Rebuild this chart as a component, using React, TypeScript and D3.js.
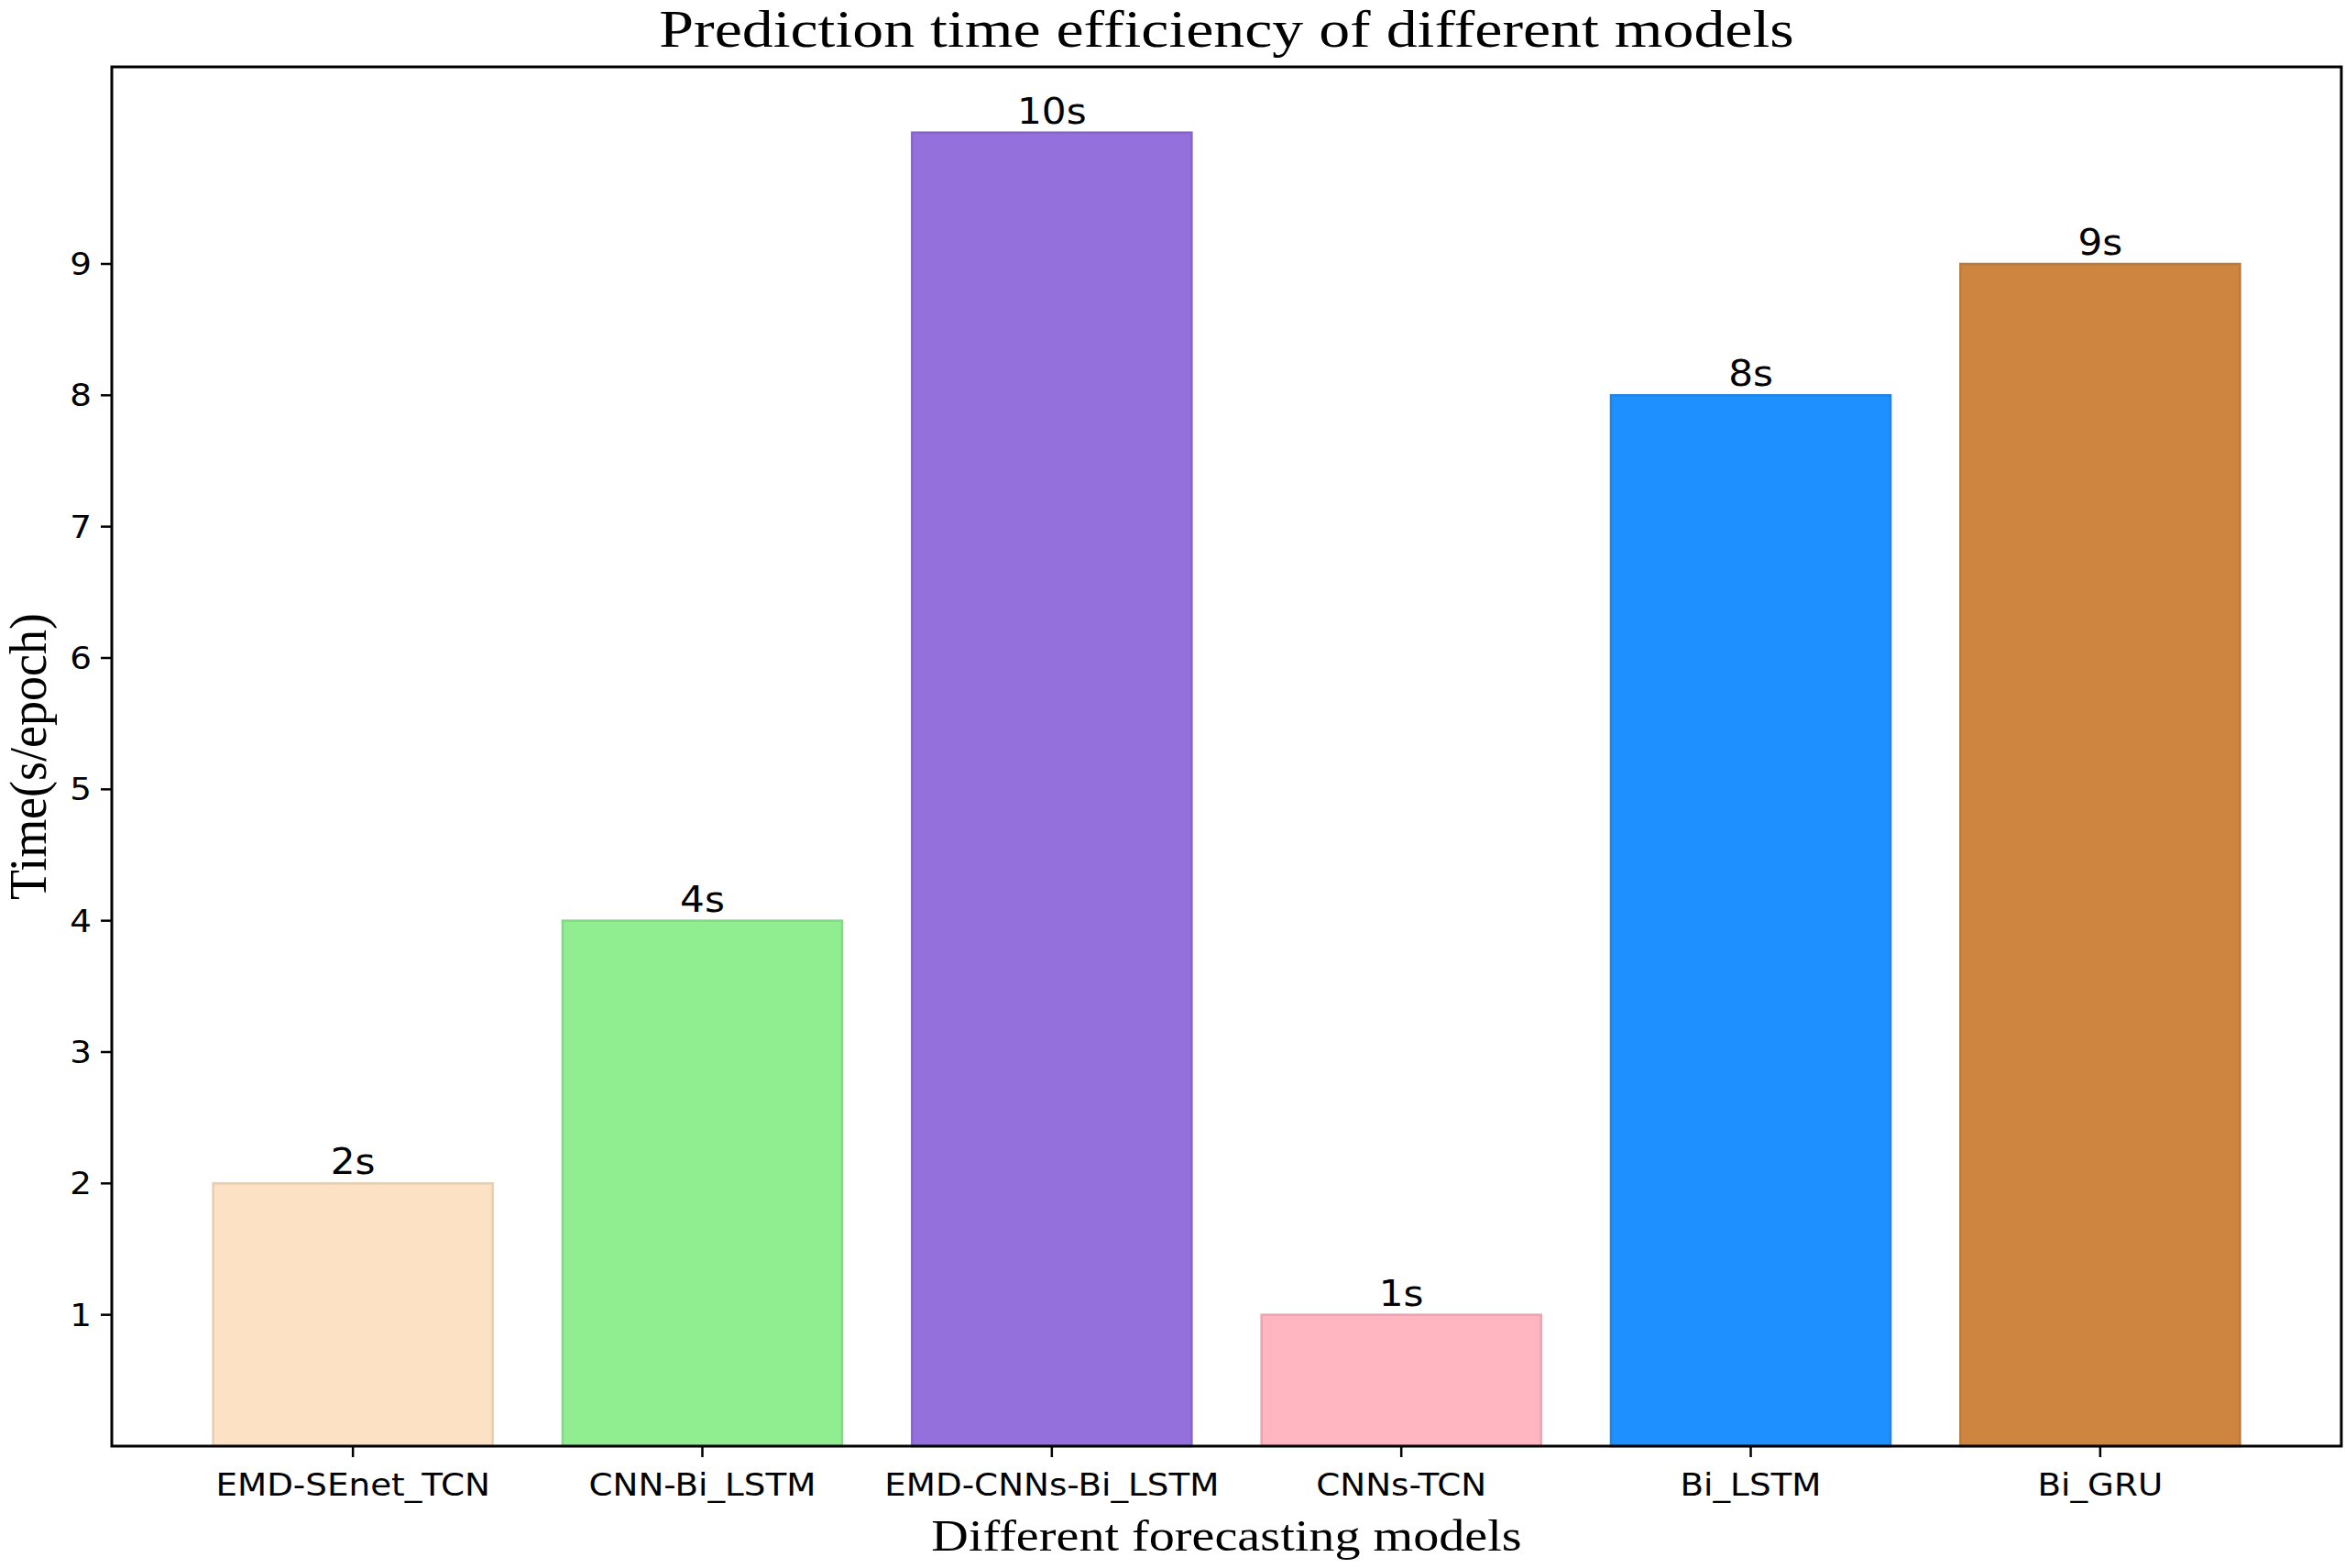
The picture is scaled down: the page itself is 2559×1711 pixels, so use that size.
import React from 'react';
import * as d3 from 'd3';

const models = ['EMD-SEnet_TCN', 'CNN-Bi_LSTM', 'EMD-CNNs-Bi_LSTM', 'CNNs-TCN', 'Bi_LSTM', 'Bi_GRU'];
const times = [2, 4, 10, 1, 8, 9];
const barColors = ['#fde1c4', '#90ee90', '#9370db', '#ffb6c1', '#1e90ff', '#cd853f'];
const yTicks = [1, 2, 3, 4, 5, 6, 7, 8, 9];

const title = 'Prediction time efficiency of different models';
const xTitle = 'Different forecasting models';
const yTitle = 'Time(s/epoch)';

const App = () => {
  const width = 2559;
  const height = 1711;
  const margin = { top: 73, right: 4, bottom: 133, left: 122 };
  const innerW = width - margin.left - margin.right;
  const innerH = height - margin.top - margin.bottom;

  // matplotlib-like limits: bars of width 0.8, 5% margins
  const barW = 0.8;
  const n = models.length;
  const pad = (n - 1 + barW) * 0.05;
  const x = d3.scaleLinear().domain([-barW / 2 - pad, n - 1 + barW / 2 + pad]).range([0, innerW]);
  const yMax = d3.max(times)! * 1.05;
  const y = d3.scaleLinear().domain([0, yMax]).range([innerH, 0]);

  const sans = 'DejaVu Sans, sans-serif';
  const serif = 'Liberation Serif, Times New Roman, serif';
  const sx = 1.13;

  return (
    <svg width={width} height={height} style={{ position: 'absolute', left: 0, top: 0, background: '#fff' }}>
      <rect width={width} height={height} fill="#fff" />
      <text
        transform={`translate(${margin.left + innerW / 2},51) scale(1.19,1)`}
        textAnchor="middle"
        fontFamily={serif}
        fontSize={57}
        fill="#000"
      >
        {title}
      </text>
      <g transform={`translate(${margin.left},${margin.top})`}>
        {/* bars */}
        {times.map((v, i) => (
          <rect
            key={models[i]}
            x={x(i - barW / 2)}
            y={y(v)}
            width={x(i + barW / 2) - x(i - barW / 2)}
            height={innerH - y(v)}
            fill={barColors[i]}
            stroke={d3.color(barColors[i])!.darker(0.25).formatHex()}
            strokeWidth={2.5}
          />
        ))}
        {/* value labels */}
        {times.map((v, i) => (
          <text
            key={'v' + i}
            transform={`translate(${x(i)},${y(v) - 10}) scale(1.08,1)`}
            textAnchor="middle"
            fontFamily={sans}
            fontSize={39}
            fill="#000"
          >
            {`${v}s`}
          </text>
        ))}
        {/* y ticks */}
        {yTicks.map((t) => (
          <g key={'y' + t} transform={`translate(0,${y(t)})`}>
            <line x1={-12} x2={0} stroke="#000" strokeWidth={2.5} />
            <text
              transform={`translate(-22,0) scale(${sx},1)`}
              textAnchor="end"
              dy="0.36em"
              fontFamily={sans}
              fontSize={33}
              fill="#000"
            >
              {t}
            </text>
          </g>
        ))}
        {/* x ticks */}
        {models.map((m, i) => (
          <g key={'x' + m} transform={`translate(${x(i)},${innerH})`}>
            <line y1={0} y2={12} stroke="#000" strokeWidth={2.5} />
            <text
              transform={`translate(0,54) scale(${sx},1)`}
              textAnchor="middle"
              fontFamily={sans}
              fontSize={33}
              fill="#000"
            >
              {m}
            </text>
          </g>
        ))}
        {/* frame */}
        <rect x={0} y={0} width={innerW} height={innerH} fill="none" stroke="#000" strokeWidth={3} />
      </g>
      <text
        transform={`translate(${margin.left + innerW / 2},1692) scale(1.17,1)`}
        textAnchor="middle"
        fontFamily={serif}
        fontSize={48}
        fill="#000"
      >
        {xTitle}
      </text>
      <text
        transform={`translate(50,${margin.top + innerH / 2}) scale(1.04,1) rotate(-90)`}
        textAnchor="middle"
        fontFamily={serif}
        fontSize={54}
        fill="#000"
      >
        {yTitle}
      </text>
    </svg>
  );
};

export default App;
